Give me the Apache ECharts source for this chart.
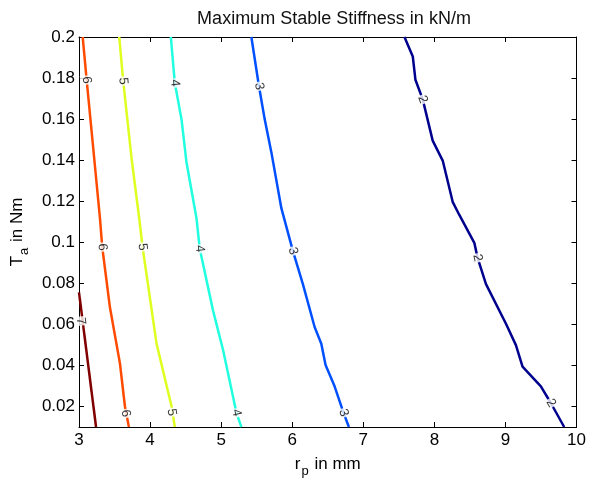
<!DOCTYPE html>
<html>
<head>
<meta charset="utf-8">
<script src="https://cdn.jsdelivr.net/npm/echarts@6/dist/echarts.min.js"></script>
<style>html,body{margin:0;padding:0;background:#fff}#c{width:589px;height:483px}</style>
</head>
<body>
<div id="c"></div>
<script>
// ---- data ----
var xTicks = [3, 4, 5, 6, 7, 8, 9, 10];
var yTicks = [0.02, 0.04, 0.06, 0.08, 0.1, 0.12, 0.14, 0.16, 0.18, 0.2];
var yTickLabels = ['0.02', '0.04', '0.06', '0.08', '0.1', '0.12', '0.14', '0.16', '0.18', '0.2'];
var levels = [2, 3, 4, 5, 6, 7];

var contour7 = [[3.0, 0.0756], [3.24, 0.0100]];
var contour6 = [[3.052, 0.200], [3.108, 0.179], [3.295, 0.1117], [3.327, 0.0976], [3.435, 0.0683], [3.576, 0.041], [3.646, 0.0201], [3.702, 0.0100]];
var contour5 = [[3.566, 0.200], [3.622, 0.1785], [3.74, 0.1407], [3.847, 0.1117], [3.894, 0.0977], [4.091, 0.0506], [4.302, 0.0201], [4.348, 0.0100]];
var contour4 = [[4.292, 0.200], [4.348, 0.1776], [4.442, 0.160], [4.512, 0.139], [4.653, 0.1117], [4.699, 0.0968], [4.886, 0.0667], [5.027, 0.0475], [5.215, 0.0169], [5.285, 0.0100]];
var contour3 = [[5.425, 0.200], [5.532, 0.176], [5.612, 0.160], [5.706, 0.1439], [5.847, 0.1166], [6.01, 0.0957], [6.15, 0.0796], [6.315, 0.0587], [6.409, 0.0506], [6.469, 0.0402], [6.596, 0.0298], [6.722, 0.0169], [6.797, 0.0100]];
var contour2 = [[7.579, 0.200], [7.696, 0.1905], [7.733, 0.1792], [7.836, 0.1696], [7.976, 0.1495], [8.117, 0.1398], [8.257, 0.1197], [8.351, 0.1133], [8.562, 0.0997], [8.608, 0.0924], [8.726, 0.0796], [9.007, 0.0603], [9.147, 0.0499], [9.24, 0.0394], [9.498, 0.0298], [9.638, 0.0217], [9.826, 0.0100]];

var labels7 = [[3.024, 0.0616]];
var labels6 = [[3.108, 0.179], [3.327, 0.0976], [3.656, 0.0166]];
var labels5 = [[3.622, 0.1785], [3.894, 0.0977], [4.302, 0.0172]];
var labels4 = [[4.348, 0.1776], [4.699, 0.0968], [5.215, 0.0169]];
var labels3 = [[5.532, 0.176], [6.01, 0.0957], [6.722, 0.0169]];
var labels2 = [[7.836, 0.1696], [8.608, 0.0924], [9.638, 0.0217]];

// ---- styles ----
var contours = [contour2, contour3, contour4, contour5, contour6, contour7];
var labelSets = [labels2, labels3, labels4, labels5, labels6, labels7];
var colors = ['#00008f', '#0050ff', '#20ffdf', '#dfff20', '#ff4a00', '#800000'];
var FONT = '"Liberation Sans", Arial, Helvetica, sans-serif';

var chart = echarts.init(document.getElementById('c'), null, {renderer: 'canvas'});

function lineSeries() {
  return contours.map(function (c, i) {
    return {
      type: 'line', name: 'c' + levels[i], data: c, showSymbol: false, symbol: 'none',
      lineStyle: {color: colors[i], width: 2.5}, itemStyle: {color: colors[i]},
      clip: true, z: 2, silent: true, animation: false
    };
  });
}

function labelSeries(rots) {
  return labelSets.map(function (ls, i) {
    return {
      type: 'scatter', data: ls.map(function (p, j) {
        return {value: p, label: {rotate: rots ? rots[i][j] : 0}};
      }),
      symbolSize: 0, z: 5, silent: true, animation: false,
      label: {
        show: true, position: 'inside', formatter: String(levels[i]),
        color: '#000', fontSize: 13, fontFamily: FONT,
        backgroundColor: '#fff', padding: [0, 1, 0, 1]
      }
    };
  });
}

var axisCommon = {
  axisLine: {show: true, onZero: false, lineStyle: {color: '#000', width: 1}},
  splitLine: {show: false}
};

var option = {
  animation: false,
  backgroundColor: '#fff',
  title: {
    text: 'Maximum Stable Stiffness in kN/m', left: 329, top: 5, textAlign: 'center',
    textStyle: {fontFamily: FONT, fontSize: 18, fontWeight: 'normal', color: '#111'}
  },
  grid: {left: 79, right: 11, top: 37, bottom: 52, containLabel: false},
  xAxis: [
    Object.assign({
      type: 'value', min: 3, max: 10, interval: 1, position: 'bottom',
      axisTick: {show: true, inside: true, length: 5, lineStyle: {color: '#000'}},
      axisLabel: {color: '#000', fontSize: 17, fontFamily: FONT, margin: 5},
      name: '{m|r}{s|p}{m| in mm}', nameLocation: 'middle', nameGap: 24,
      nameTextStyle: {rich: {
        m: {fontSize: 17, fontFamily: FONT, color: '#000'},
        s: {fontSize: 13, fontFamily: FONT, color: '#000', padding: [14, 1, 0, 1]}
      }}
    }, axisCommon),
    Object.assign({
      type: 'value', min: 3, max: 10, interval: 1, position: 'top',
      axisTick: {show: true, inside: true, length: 5, lineStyle: {color: '#000'}},
      axisLabel: {show: false}
    }, axisCommon)
  ],
  yAxis: [
    Object.assign({
      type: 'value', min: 0.01, max: 0.2, position: 'left',
      axisTick: {show: true, inside: true, length: 5, customValues: yTicks, lineStyle: {color: '#000'}},
      axisLabel: {color: '#000', fontSize: 17, fontFamily: FONT, margin: 4, customValues: yTicks,
        formatter: function (v) {
          var k = yTicks.findIndex(function (t) { return Math.abs(t - v) < 1e-9; });
          return k >= 0 ? yTickLabels[k] : '';
        }},
      name: '{m|T}{s|a}{m| in Nm}', nameLocation: 'middle', nameGap: 46, nameRotate: 90,
      nameTextStyle: {rich: {
        m: {fontSize: 17, fontFamily: FONT, color: '#000'},
        s: {fontSize: 13, fontFamily: FONT, color: '#000', padding: [14, 1, 0, 1]}
      }}
    }, axisCommon),
    Object.assign({
      type: 'value', min: 0.01, max: 0.2, position: 'right',
      axisTick: {show: true, inside: true, length: 5, customValues: yTicks, lineStyle: {color: '#000'}},
      axisLabel: {show: false}
    }, axisCommon)
  ],
  series: lineSeries().concat(labelSeries(null))
};

chart.setOption(option);

// compute label rotation from local contour direction in pixel space
function px(p) { return chart.convertToPixel({xAxisIndex: 0, yAxisIndex: 0}, p); }
var rots = labelSets.map(function (ls, i) {
  var c = contours[i].map(px);
  return ls.map(function (p) {
    var q = px(p), best = 1e18, ang = -80;
    for (var k = 0; k < c.length - 1; k++) {
      var a = c[k], b = c[k + 1];
      var dx = b[0] - a[0], dy = b[1] - a[1];
      var L2 = dx * dx + dy * dy;
      var t = Math.max(0, Math.min(1, ((q[0] - a[0]) * dx + (q[1] - a[1]) * dy) / L2));
      var ex = a[0] + t * dx - q[0], ey = a[1] + t * dy - q[1];
      var d = ex * ex + ey * ey;
      if (d < best) { best = d; ang = -Math.atan2(dy, dx) * 180 / Math.PI; }
    }
    return ang;
  });
});
chart.setOption({series: lineSeries().concat(labelSeries(rots))});
</script>
</body>
</html>
